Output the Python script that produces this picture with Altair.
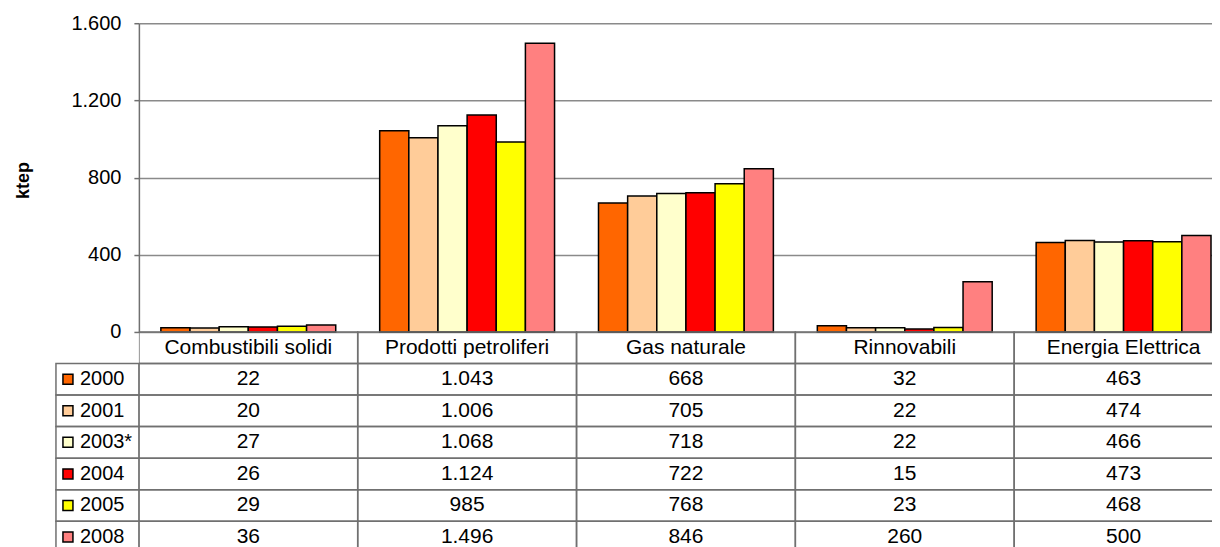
import altair as alt
import pandas as pd

categories = ["Combustibili solidi", "Prodotti petroliferi", "Gas naturale",
              "Rinnovabili", "Energia Elettrica"]
years = ["2000", "2001", "2003*", "2004", "2005", "2008"]
colors = ["#FF6600", "#FFCC99", "#FFFFCC", "#FF0000", "#FFFF00", "#FF8080"]

v2000 = [22, 1043, 668, 32, 463]
v2001 = [20, 1006, 705, 22, 474]
v2003 = [27, 1068, 718, 22, 466]
v2004 = [26, 1124, 722, 15, 473]
v2005 = [29, 985, 768, 23, 468]
v2008 = [36, 1496, 846, 260, 500]

series = [v2000, v2001, v2003, v2004, v2005, v2008]
rows = []
for yr, vals in zip(years, series):
    for cat, v in zip(categories, vals):
        rows.append({"cat": cat, "row": yr, "value": v,
                     "label": f"{v:,}".replace(",", ".")})
df = pd.DataFrame(rows)
hdr = pd.DataFrame({"cat": categories, "row": "hdr", "label": categories})
tdf = pd.concat([hdr, df[["cat", "row", "label"]]], ignore_index=True)
ydf = pd.DataFrame({"row": years})
rowdom = ["hdr"] + years

FONT = "Liberation Sans"
GRID = "#8a8a8a"
LINE = "#707070"
W = 1095        # five equal columns; the last one runs past the picture edge
H_PLOT = 309    # bar area
H_ALL = 530     # bar area + table

color = alt.Color("row:N", sort=years,
                  scale=alt.Scale(domain=years, range=colors), legend=None)
xscale = alt.Scale(domain=categories, paddingInner=0, paddingOuter=0)
x = alt.X("cat:N", sort=categories, scale=xscale, axis=None)
tscale = alt.Scale(domain=rowdom, range=[H_PLOT, H_ALL],
                   paddingInner=0, paddingOuter=0)
yt = alt.Y("row:N", sort=rowdom, scale=tscale, axis=None)

bars = alt.Chart(df).mark_bar(stroke="black", strokeWidth=1.5).encode(
    x=x,
    xOffset=alt.XOffset("row:N", sort=years,
                        scale=alt.Scale(paddingInner=0, paddingOuter=0.754)),
    y=alt.Y("value:Q",
            scale=alt.Scale(domain=[0, 1600], range=[H_PLOT, 0], nice=False),
            axis=alt.Axis(title="ktep", values=[0, 400, 800, 1200, 1600],
                          labelExpr="replace(format(datum.value, ','), ',', '.')",
                          labelFontSize=20, labelFont=FONT, labelColor="black",
                          tickSize=5, tickColor=LINE, tickWidth=1.5,
                          labelPadding=13, domainColor=LINE, domainWidth=1.5,
                          grid=True, gridColor=GRID, gridWidth=1.5,
                          titleFont=FONT, titleFontSize=18,
                          titleFontWeight="bold", titleColor="black",
                          titlePadding=38, titleY=157)),
    color=color,
)

cells = alt.Chart(tdf).mark_rect(fillOpacity=0, stroke=LINE, strokeWidth=1.5,
                                 clip=True).encode(x=x, y=yt)

text = alt.Chart(tdf).mark_text(fontSize=21, font=FONT, color="black").encode(
    x=x, y=yt, text="label:N")

legcells = alt.Chart(ydf).mark_rect(fillOpacity=0, stroke=LINE,
                                    strokeWidth=1.5).encode(
    x=alt.value(-83), x2=alt.value(0), y=yt)

swatch = alt.Chart(ydf).mark_square(size=100, stroke="black", strokeWidth=1.5,
                                    opacity=1).encode(
    x=alt.value(-71), y=yt, color=color)

yearlab = alt.Chart(ydf).mark_text(fontSize=20, font=FONT, color="black",
                                   align="left").encode(
    x=alt.value(-59), y=yt, text="row:N")

chart = alt.layer(bars, cells, text, legcells, swatch, yearlab).resolve_scale(
    y="independent"
).properties(
    width=W, height=H_ALL,
    padding={"left": 6, "top": 5, "right": -21, "bottom": 0}
).configure_view(stroke=None)

chart.save("out.html", embed_options={"renderer": "svg", "actions": False})
